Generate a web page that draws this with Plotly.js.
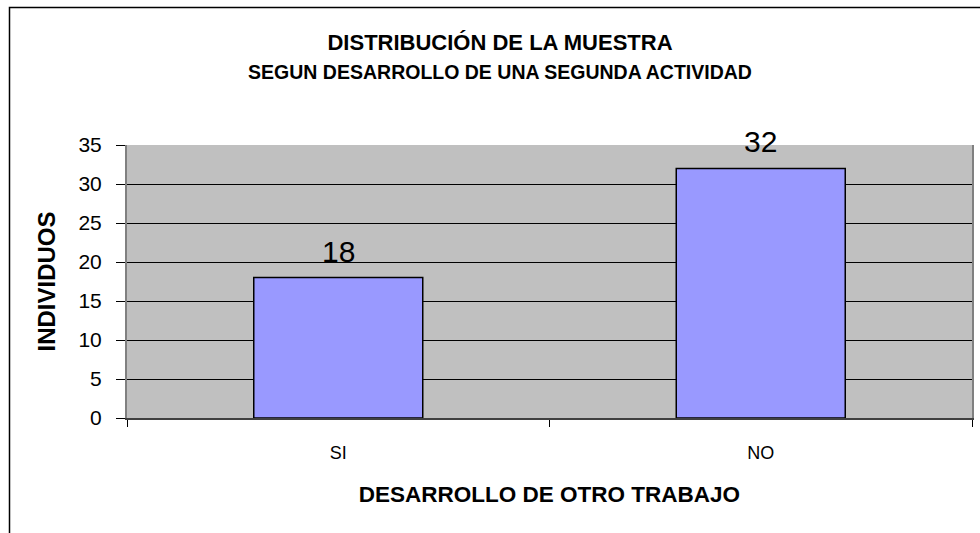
<!DOCTYPE html>
<html>
<head>
<meta charset="utf-8">
<script src="https://cdn.plot.ly/plotly-3.0.1.min.js"></script>
<style>
  html, body { margin: 0; padding: 0; background: #ffffff; }
  #chart { width: 980px; height: 533px; }
</style>
</head>
<body>
<div id="chart"></div>
<script>
const categories = ["SI", "NO"];
const values = [18, 32];
const yTicks = [0, 5, 10, 15, 20, 25, 30, 35];
const titleLine1 = "DISTRIBUCIÓN DE LA MUESTRA";
const titleLine2 = "SEGUN DESARROLLO DE UNA SEGUNDA ACTIVIDAD";
const xTitle = "DESARROLLO DE OTRO TRABAJO";
const yTitle = "INDIVIDUOS";

const FONT = "Liberation Sans, Arial, sans-serif";

const trace = {
  type: "bar",
  x: categories,
  y: values,
  marker: { color: "#9999FF", line: { color: "#000000", width: 1.5 } },
  hoverinfo: "x+y"
};

const labelAnnotations = categories.map((c, i) => ({
  x: c, y: values[i], xref: "x", yref: "y",
  text: String(values[i]),
  showarrow: false,
  xanchor: "center", yanchor: "bottom",
  yshift: 8,
  font: { family: FONT, size: 30, color: "#000000" }
}));

const layout = {
  width: 980,
  height: 533,
  paper_bgcolor: "#ffffff",
  plot_bgcolor: "#C0C0C0",
  margin: { l: 127, r: 8, t: 145, b: 115, pad: 0 },
  bargap: 0.6,
  showlegend: false,
  font: { family: FONT, color: "#000000" },
  title: {
    text: "<b>" + titleLine1 + "</b><br><span style='font-size:19.5px'><b>" + titleLine2 + "</b></span>",
    font: { family: FONT, size: 22, color: "#000000" },
    x: 500 / 980, xref: "container", xanchor: "center",
    y: 1 - 50 / 533, yref: "container", yanchor: "top"
  },
  annotations: labelAnnotations,
  xaxis: {
    type: "category",
    showgrid: false,
    showline: true,
    linecolor: "#404040",
    linewidth: 2,
    ticks: "outside",
    tickson: "boundaries",
    ticklen: 7,
    tickcolor: "#000000",
    tickwidth: 1,
    ticklabelstandoff: 17,
    tickfont: { family: FONT, size: 18, color: "#000000" },
    title: { text: "<b>" + xTitle + "</b>", font: { family: FONT, size: 22.5, color: "#000000" }, standoff: 25 },
    zeroline: false,
    fixedrange: true
  },
  yaxis: {
    range: [0, 35],
    tickvals: yTicks,
    ticktext: yTicks.map(String),
    showgrid: true,
    gridcolor: "#000000",
    gridwidth: 1,
    showline: true,
    linecolor: "#808080",
    linewidth: 2,
    mirror: true,
    ticks: "outside",
    ticklen: 9,
    tickcolor: "#000000",
    tickwidth: 1,
    ticklabelstandoff: 10,
    tickfont: { family: FONT, size: 21, color: "#000000" },
    title: { text: "<b>" + yTitle + "</b>", font: { family: FONT, size: 24, color: "#000000" }, standoff: 16 },
    zeroline: false,
    fixedrange: true
  },
  shapes: [
    {
      type: "rect", xref: "paper", yref: "paper",
      x0: (9.5 - 127) / 845, x1: (1000 - 127) / 845,
      y0: -0.8, y1: (418 - 7.5) / 273,
      line: { color: "#000000", width: 1.5 },
      fillcolor: "rgba(0,0,0,0)",
      layer: "below"
    }
  ]
};

Plotly.newPlot("chart", [trace], layout, { staticPlot: true, displayModeBar: false });
</script>
</body>
</html>
